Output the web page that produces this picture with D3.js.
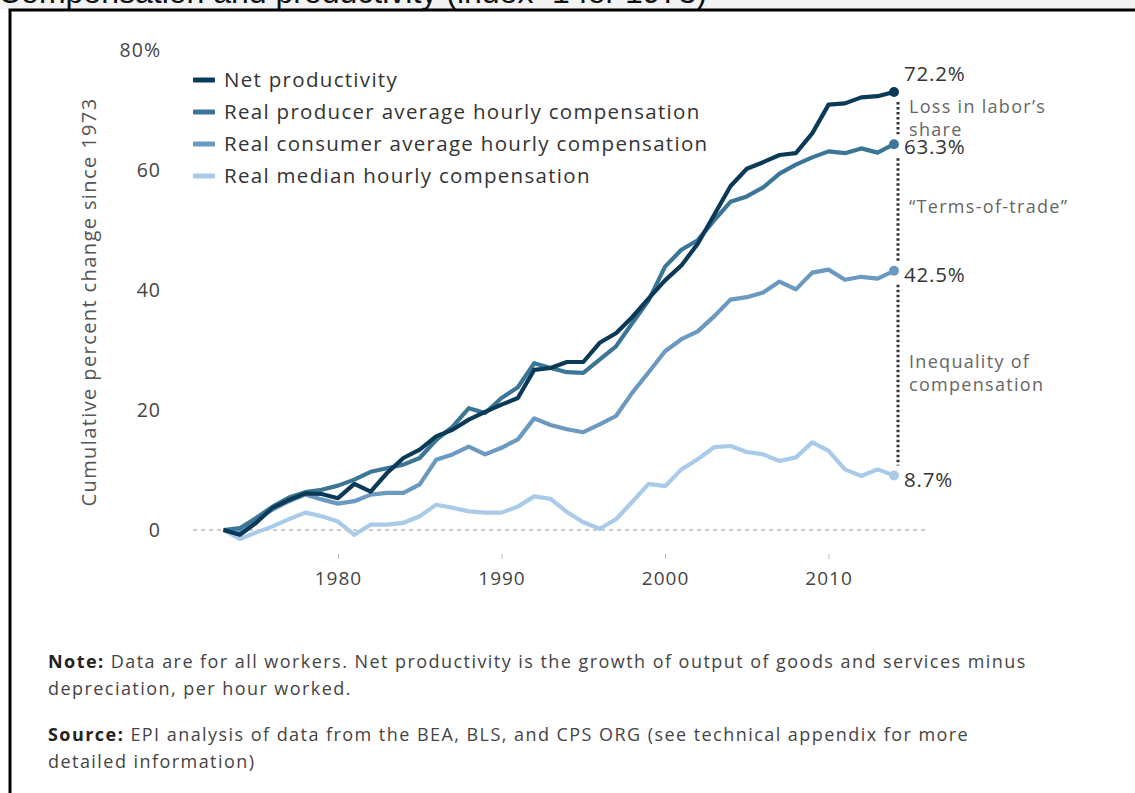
<!DOCTYPE html>
<html>
<head>
<meta charset="utf-8">
<script src="https://cdn.jsdelivr.net/npm/d3@7"></script>
<style>
  body { margin: 0; background: #fff; }
  svg { display: block; font-family: 'Open Sans', sans-serif; }
</style>
</head>
<body>
<div id="chart"></div>
<script>
// Data
var years = d3.range(1973, 2015);

var netProductivity = [0, -0.8, 1.2, 3.7, 5.0, 6.1, 6.0, 5.3, 7.7, 6.4,
  9.5, 12.0, 13.4, 15.6, 16.7, 18.4, 19.7, 20.9, 22.0, 26.7,
  27.0, 28.0, 28.0, 31.2, 32.8, 35.5, 38.6, 41.6, 44.1, 47.7,
  52.5, 57.3, 60.2, 61.3, 62.5, 62.8, 66.1, 70.9, 71.1, 72.1,
  72.3, 73.0];

var producerComp = [0, 0.3, 2.0, 3.9, 5.4, 6.3, 6.7, 7.4, 8.4, 9.7,
  10.3, 10.9, 12.0, 15.0, 17.2, 20.3, 19.5, 22.0, 23.8, 27.8,
  27.0, 26.3, 26.2, 28.4, 30.6, 34.5, 38.3, 43.9, 46.7, 48.3,
  51.6, 54.7, 55.6, 57.1, 59.4, 60.9, 62.1, 63.1, 62.8, 63.6,
  62.9, 64.3];

var consumerComp = [0, -0.3, 1.8, 3.4, 4.8, 5.9, 5.1, 4.4, 4.8, 5.9,
  6.2, 6.2, 7.6, 11.7, 12.6, 13.9, 12.6, 13.7, 15.1, 18.6,
  17.5, 16.8, 16.3, 17.6, 19.0, 22.9, 26.3, 29.8, 31.8, 33.1,
  35.6, 38.4, 38.8, 39.6, 41.4, 40.1, 42.9, 43.4, 41.7, 42.2,
  41.9, 43.2];

var medianComp = [0, -1.5, -0.4, 0.6, 1.8, 2.9, 2.3, 1.4, -0.8, 0.9,
  0.9, 1.2, 2.3, 4.2, 3.7, 3.1, 2.9, 2.9, 3.9, 5.6,
  5.2, 3.0, 1.3, 0.2, 1.8, 4.7, 7.7, 7.3, 10.1, 11.8,
  13.8, 14.0, 13.0, 12.6, 11.5, 12.1, 14.6, 13.2, 10.1, 9.0,
  10.1, 9.1];

var seriesNames = ['Net productivity', 'Real producer average hourly compensation',
  'Real consumer average hourly compensation', 'Real median hourly compensation'];
var seriesColors = ['#0b3a58', '#3b7696', '#6b99bf', '#a9cbe9'];
var endLabels = ['72.2%', '63.3%', '42.5%', '8.7%'];

var yTicks = [0, 20, 40, 60, 80];
var xTicks = [1980, 1990, 2000, 2010];

var seriesValues = [netProductivity, producerComp, consumerComp, medianComp];
var series = seriesNames.map(function(name, i) {
  return {
    name: name,
    color: seriesColors[i],
    label: endLabels[i],
    values: years.map(function(yr, j) { return {year: yr, value: seriesValues[i][j]}; })
  };
});

var W = 1135, H = 793;
var svg = d3.select('#chart')
  .append('svg')
    .attr('width', W)
    .attr('height', H);

// Page frame: grey strip with the clipped title, then the black border
svg.append('rect')
  .attr('width', W).attr('height', 9)
  .attr('fill', '#f3f3f3');
svg.append('text')
  .attr('x', -2).attr('y', 3)
  .style('font-family', 'Arial, Liberation Sans, sans-serif')
  .style('font-size', '32px')
  .attr('fill', '#111')
  .text('Compensation and productivity (index=1 for 1973)');
svg.append('path')
  .attr('d', 'M10,793V10H1135')
  .attr('fill', 'none')
  .attr('stroke', '#000')
  .attr('stroke-width', 3);

// Scales
var x = d3.scaleLinear()
  .domain([1973, 2014])
  .range([223.5, 894]);
var y = d3.scaleLinear()
  .domain([0, 80])
  .range([530, 50]);

// Zero line
svg.append('line')
  .attr('x1', 193).attr('x2', 928)
  .attr('y1', y(0)).attr('y2', y(0))
  .attr('stroke', '#999')
  .attr('stroke-width', 1.2)
  .attr('stroke-dasharray', '4,4');

// Y axis (labels only)
var yAxis = d3.axisLeft(y)
  .tickValues(yTicks)
  .tickSize(0)
  .tickPadding(0)
  .tickFormat(function(d) { return d === 80 ? '80%' : d; });
var gy = svg.append('g')
  .attr('transform', 'translate(161,0)')
  .call(yAxis);
gy.select('.domain').remove();
gy.selectAll('text')
  .style('font-family', "'Open Sans', sans-serif")
  .style('font-size', '19.5px')
  .style('letter-spacing', '1px')
  .attr('fill', '#444');

// X axis
var xAxis = d3.axisBottom(x)
  .tickValues(xTicks)
  .tickSize(5)
  .tickPadding(13)
  .tickFormat(d3.format('d'));
var gx = svg.append('g')
  .attr('transform', 'translate(0,554)')
  .call(xAxis);
gx.select('.domain').remove();
gx.selectAll('line').attr('stroke', '#bbb');
gx.selectAll('text')
  .style('font-family', "'Open Sans', sans-serif")
  .style('font-size', '19px')
  .style('letter-spacing', '1px')
  .attr('fill', '#444');

// Y axis title
svg.append('text')
  .attr('transform', 'translate(96,302) rotate(-90)')
  .attr('text-anchor', 'middle')
  .style('font-size', '20px')
  .style('letter-spacing', '1.4px')
  .attr('fill', '#555')
  .text('Cumulative percent change since 1973');

// Lines (median drawn first, productivity on top)
var line = d3.line()
  .x(function(d) { return x(d.year); })
  .y(function(d) { return y(d.value); });

svg.selectAll('.series')
  .data(series.slice().reverse())
  .enter()
  .append('path')
    .attr('class', 'series')
    .attr('fill', 'none')
    .attr('stroke', function(d) { return d.color; })
    .attr('stroke-width', 4.2)
    .attr('stroke-linejoin', 'round')
    .attr('d', function(d) { return line(d.values); });

// End dots
svg.selectAll('.dot')
  .data(series)
  .enter()
  .append('circle')
    .attr('class', 'dot')
    .attr('cx', function(d) { return x(2014); })
    .attr('cy', function(d) { return y(d.values[d.values.length - 1].value); })
    .attr('r', 5)
    .attr('fill', function(d) { return d.color; });

// Dotted gap brackets between the end points
var lastVals = series.map(function(d) { return d.values[d.values.length - 1].value; });
var gaps = d3.pairs(lastVals);
svg.selectAll('.gap')
  .data(gaps)
  .enter()
  .append('line')
    .attr('class', 'gap')
    .attr('x1', 898).attr('x2', 898)
    .attr('y1', function(d, i) { return y(d[0]) + (i === 0 ? 10 : 14); })
    .attr('y2', function(d) { return y(d[1]) - 10; })
    .attr('stroke', '#333')
    .attr('stroke-width', 3)
    .attr('stroke-dasharray', '2.5,2.5');

// End labels
var labelDy = [-18, 3, 4, 4];
svg.selectAll('.endlabel')
  .data(series)
  .enter()
  .append('text')
    .attr('class', 'endlabel')
    .attr('x', 904)
    .attr('y', function(d, i) { return y(d.values[d.values.length - 1].value) + labelDy[i]; })
    .attr('dy', '0.35em')
    .style('font-size', '20.5px')
    .style('letter-spacing', '0.8px')
    .attr('fill', '#333')
    .text(function(d) { return d.label; });

// Gap annotations
var notes = [
  {lines: ['Loss in labor\u2019s', 'share'], y: 113},
  {lines: ['\u201cTerms-of-trade\u201d'], y: 213},
  {lines: ['Inequality of', 'compensation'], y: 368}
];
notes.forEach(function(n) {
  var t = svg.append('text')
    .attr('x', 909)
    .attr('y', n.y)
    .attr('dy', '0.35em')
    .style('font-size', '18px')
    .style('letter-spacing', '1.3px')
    .attr('fill', '#666');
  n.lines.forEach(function(s, i) {
    t.append('tspan')
      .attr('x', 909)
      .attr('dy', i === 0 ? 0 : 22.5)
      .text(s);
  });
});

// Legend
var legend = svg.selectAll('.legend')
  .data(series)
  .enter()
  .append('g')
    .attr('class', 'legend')
    .attr('transform', function(d, i) { return 'translate(193,' + (80 + i * 32) + ')'; });
legend.append('rect')
  .attr('x', 0).attr('y', -2.5)
  .attr('width', 22).attr('height', 5)
  .attr('rx', 1)
  .attr('fill', function(d) { return d.color; });
legend.append('text')
  .attr('x', 31)
  .attr('dy', '0.35em')
  .style('font-size', '20.5px')
  .style('letter-spacing', '1.3px')
  .attr('fill', '#333')
  .text(function(d) { return d.name; });

// Notes under the chart
var footer = [
  {y: 668, bold: 'Note:', rest: ' Data are for all workers. Net productivity is the growth of output of goods and services minus'},
  {y: 695, bold: '', rest: 'depreciation, per hour worked.'},
  {y: 741, bold: 'Source:', rest: ' EPI analysis of data from the BEA, BLS, and CPS ORG (see technical appendix for more'},
  {y: 768, bold: '', rest: 'detailed information)'}
];
footer.forEach(function(f) {
  var t = svg.append('text')
    .attr('x', 48)
    .attr('y', f.y)
    .style('font-size', '18px')
    .style('letter-spacing', '1.45px')
    .attr('fill', '#444');
  if (f.bold) {
    t.append('tspan').style('font-weight', 'bold').attr('fill', '#222').text(f.bold);
  }
  t.append('tspan').text(f.rest);
});
</script>
</body>
</html>
